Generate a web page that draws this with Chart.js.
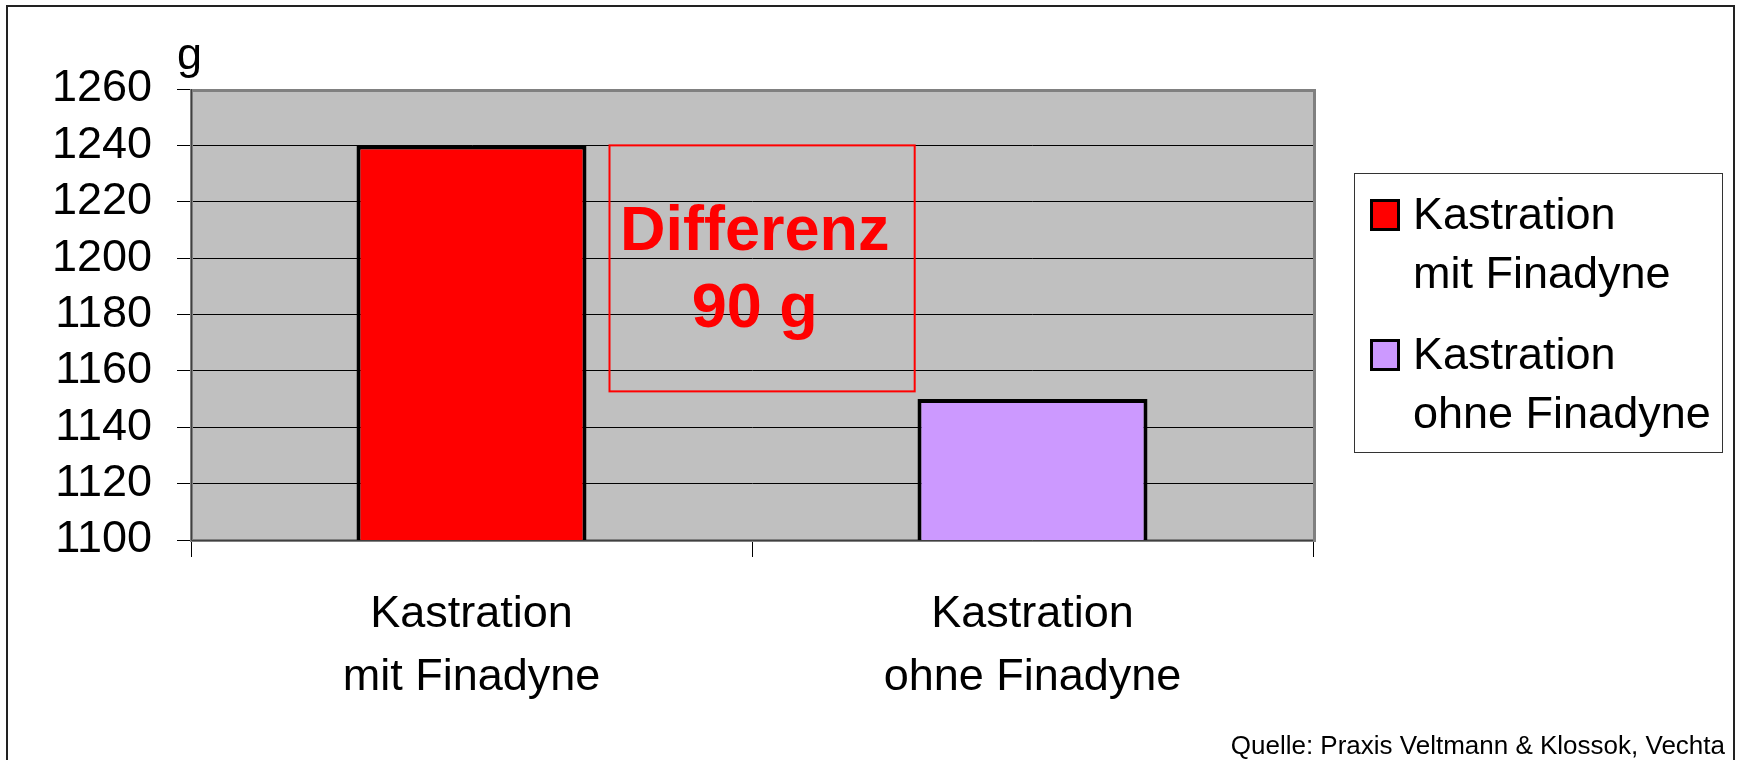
<!DOCTYPE html>
<html>
<head>
<meta charset="utf-8">
<script src="https://cdn.jsdelivr.net/npm/chart.js@4.4.1/dist/chart.umd.min.js"></script>
<style>
	body { margin: 0; background: #fff; }
	canvas { display: block; }
</style>
</head>
<body>
<canvas id="grafico" width="1742" height="760"></canvas>
<script>
const categorie = [["Kastration", "mit Finadyne"], ["Kastration", "ohne Finadyne"]];
const pesi = [1240, 1150];
const coloriBarre = ["#FF0000", "#CC99FF"];
const yMin = 1100;
const yMax = 1260;
const yStep = 20;
const unita = "g";
const fonte = "Quelle: Praxis Veltmann & Klossok, Vechta";
const FONT = "'Liberation Sans', Arial, sans-serif";

// sfondo bianco + area grigia del grafico
const sfondo = {
	id: "sfondo",
	beforeDraw(chart) {
		let ctx = chart.ctx;
		let a = chart.chartArea;
		ctx.save();
		ctx.fillStyle = "#fff";
		ctx.fillRect(0, 0, chart.width, chart.height);
		ctx.fillStyle = "#C0C0C0";
		ctx.fillRect(a.left, a.top, a.right - a.left, a.bottom - a.top);
		ctx.restore();
	},
	beforeDatasetsDraw(chart) {
		let ctx = chart.ctx;
		let a = chart.chartArea;
		ctx.save();
		ctx.strokeStyle = "#808080";
		ctx.lineWidth = 3;
		ctx.strokeRect(a.left + 0.5, a.top + 1.5, a.right - a.left + 1, a.bottom - a.top - 1);
		ctx.strokeStyle = "#404040";
		ctx.lineWidth = 1;
		ctx.beginPath();
		ctx.moveTo(a.left + 0.5, a.top);
		ctx.lineTo(a.left + 0.5, a.bottom + 0.5);
		ctx.lineTo(a.right, a.bottom + 0.5);
		ctx.stroke();
		ctx.restore();
	}
};

// cornice, unita, fonte, riquadro differenza, legenda
const extra = {
	id: "extra",
	afterDraw(chart) {
		let ctx = chart.ctx;
		let xs = chart.scales.x;
		let ys = chart.scales.y;
		ctx.save();

		// cornice esterna
		ctx.strokeStyle = "#222";
		ctx.lineWidth = 2;
		ctx.beginPath();
		ctx.moveTo(7, chart.height);
		ctx.lineTo(7, 6);
		ctx.lineTo(1734, 6);
		ctx.lineTo(1734, chart.height);
		ctx.stroke();

		ctx.fillStyle = "#000";
		ctx.textBaseline = "alphabetic";
		ctx.font = "45px " + FONT;
		ctx.textAlign = "left";
		ctx.fillText(unita, 177, 69);

		ctx.font = "26px " + FONT;
		ctx.textAlign = "right";
		ctx.fillText(fonte, 1725, 754);

		// riquadro differenza
		let cw = xs.width / categorie.length;
		let top = ys.getPixelForValue(pesi[0]);
		let left = xs.left + cw * 0.746;
		let right = xs.left + cw * 1.29;
		ctx.strokeStyle = "#FF0000";
		ctx.lineWidth = 2;
		ctx.strokeRect(left, top, right - left, 246);
		ctx.fillStyle = "#FF0000";
		ctx.font = "bold 63px " + FONT;
		ctx.textAlign = "center";
		let cx = xs.left + cw * 1.005;
		ctx.fillText("Differenz", cx, top + 105);
		ctx.fillText((pesi[0] - pesi[1]) + " g", cx, top + 182);

		// legenda
		ctx.fillStyle = "#fff";
		ctx.fillRect(1354, 173, 368, 279);
		ctx.strokeStyle = "#333";
		ctx.lineWidth = 1;
		ctx.strokeRect(1354.5, 173.5, 368, 279);
		ctx.font = "45px " + FONT;
		ctx.textAlign = "left";
		let ds = chart.data.datasets[0];
		chart.data.labels.forEach((lab, i) => {
			let y0 = 200 + i * 140;
			ctx.fillStyle = ds.backgroundColor[i];
			ctx.fillRect(1371, y0, 28, 30);
			ctx.strokeStyle = "#000";
			ctx.lineWidth = 3;
			ctx.strokeRect(1371.5, y0 + 0.5, 27, 29);
			ctx.fillStyle = "#000";
			lab.forEach((riga, j) => ctx.fillText(riga, 1413, y0 + 29 + j * 59));
		});
		ctx.restore();
	}
};

let data = {
	type: "bar",
	data: {
		labels: categorie,
		datasets: [{
			label: "Gewicht",
			data: pesi,
			backgroundColor: coloriBarre,
			borderColor: "#000",
			borderWidth: 4,
			borderSkipped: false,
			barPercentage: 0.41,
			categoryPercentage: 1
		}]
	},
	options: {
		responsive: false,
		animation: false,
		layout: { padding: { left: 0, top: 89, right: 429, bottom: 0 } },
		plugins: { legend: { display: false }, tooltip: { enabled: false } },
		scales: {
			x: {
				afterFit: (s) => { s.height = 220; },
				grid: { drawOnChartArea: false, tickLength: 17, color: "#000", offset: true },
				border: { color: "#404040", width: 1 },
				ticks: {
					autoSkip: false, maxRotation: 0, padding: 26, color: "#000",
					font: { family: FONT, size: 45, lineHeight: 1.4 }
				}
			},
			y: {
				min: yMin,
				max: yMax,
				afterFit: (s) => { s.width = 191; },
				grid: { color: "#000", tickLength: 14 },
				border: { color: "#404040", width: 1 },
				ticks: {
					stepSize: yStep, autoSkip: false, padding: 25, color: "#000",
					callback: (v) => String(v),
					font: { family: FONT, size: 45, lineHeight: 1 }
				}
			}
		}
	},
	plugins: [sfondo, extra]
};

let chart = new Chart(document.getElementById("grafico"), data);
</script>
</body>
</html>
